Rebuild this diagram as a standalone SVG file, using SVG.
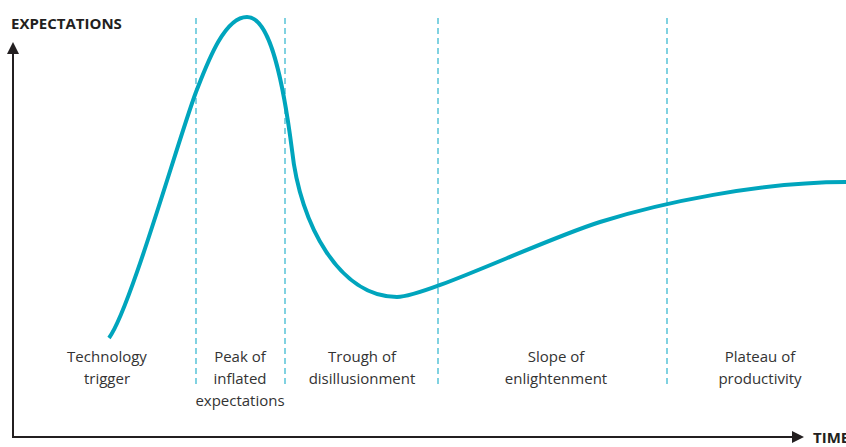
<svg xmlns="http://www.w3.org/2000/svg" width="846" height="447" viewBox="0 0 846 447">
<style>
.axis{stroke:#231f20;stroke-width:2;fill:none}
.head{fill:#231f20}
.div{stroke:#3dbbd2;stroke-width:1.3;stroke-dasharray:6 4;fill:none}
.curve{stroke:#00a5bd;stroke-width:4;fill:none;stroke-linecap:butt}
.lbl{font-family:"Open Sans","Noto Sans",sans-serif;font-size:15px;fill:#333;text-anchor:middle}
.ax{font-family:"Open Sans","Liberation Sans",sans-serif;font-size:15px;font-weight:bold;fill:#231f20}
</style>
<rect width="846" height="447" fill="#fff"/>
<g id="dividers">
<line class="div" x1="196" y1="18" x2="196" y2="385"/>
<line class="div" x1="285" y1="18" x2="285" y2="385"/>
<line class="div" x1="438" y1="18" x2="438" y2="385"/>
<line class="div" x1="667" y1="18" x2="667" y2="385"/>
</g>
<g id="axes">
<path class="axis" d="M13,52 V437 H794"/>
<path class="head" d="M13,42 L19,54 L7,54 Z"/>
<path class="head" d="M804,437 L792,431 L792,443 Z"/>
<text class="ax" x="11" y="29">EXPECTATIONS</text>
<text class="ax" x="813" y="443">TIME</text>
</g>
<g id="curve">
<path class="curve" d="M109,338 C130,310 178,140 196,92 C207,64 224,17 247,17 C270,17 283,80 292,150 C300,225 340,297 397,297 C425,297 540,241 600,222 C660,203 760,182 846,182"/>
</g>
<g id="labels">
<text class="lbl" x="107" y="362">Technology</text>
<text class="lbl" x="107" y="384">trigger</text>
<text class="lbl" x="240" y="362">Peak of</text>
<text class="lbl" x="240" y="384">inflated</text>
<text class="lbl" x="240" y="406">expectations</text>
<text class="lbl" x="362" y="362">Trough of</text>
<text class="lbl" x="362" y="384">disillusionment</text>
<text class="lbl" x="556" y="362">Slope of</text>
<text class="lbl" x="556" y="384">enlightenment</text>
<text class="lbl" x="760" y="362">Plateau of</text>
<text class="lbl" x="760" y="384">productivity</text>
</g>
</svg>
